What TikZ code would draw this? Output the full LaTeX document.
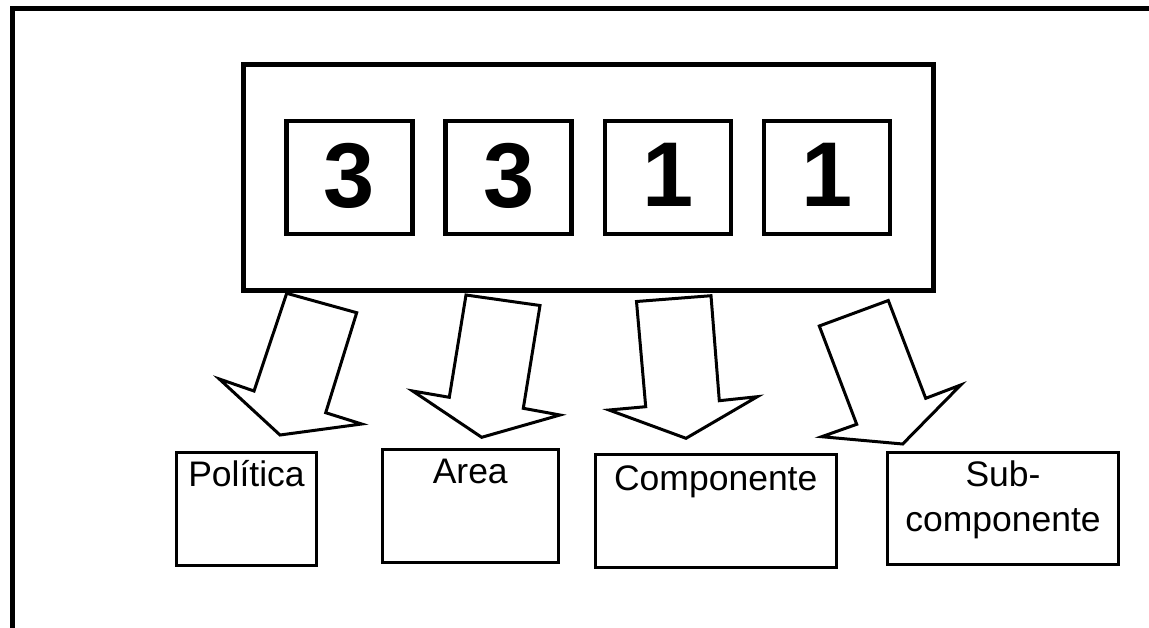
\documentclass[tikz,border=0pt]{standalone}
\usepackage{fontspec}
\setmainfont{Liberation Sans}
\tikzset{
	bigbox/.style={draw, line width=5pt, minimum width=690pt, minimum height=225.5pt, inner sep=0pt, outer sep=0pt},
	digitbox/.style={draw, line width=4.5pt, minimum width=126pt, minimum height=113pt, inner sep=0pt, outer sep=0pt, text depth=5pt, font=\fontsize{92}{100}\selectfont\bfseries},
	labelbox/.style={draw, line width=3pt, inner sep=0pt, outer sep=0pt},
	labeltext/.style={anchor=base, inner sep=0pt, align=center, font=\fontsize{35.5}{45}\selectfont},
	blockarrow/.style={draw, line width=3pt}
}
\begin{document}
\begin{tikzpicture}[x=1pt, y=-1pt]
		\clip (0, 0) rectangle (1149, 627);
		\fill[white] (0, 0) rectangle (1149, 627);
		\draw[line width=5pt] (12.5, 8.5) rectangle (1180, 660);
		% code box
		\node[bigbox] (code) at (588, 177.25) {};
		\foreach \d [count=\i] in {3, 3, 1, 1}
			\node[digitbox] (digit\i) at ({349.3 + 159.3*(\i - 1)}, 177.5) {\d};
		% arrows
		\draw[blockarrow] (286.7, 293.3) -- (356.7, 312.7) -- (325.7, 412.7) -- (361.7, 424) -- (280, 435) -- (219.3, 379) -- (254, 391) -- cycle;
		\draw[blockarrow] (466, 295) -- (540, 305.5) -- (523.3, 408.3) -- (560, 415) -- (481.7, 437.3) -- (412.7, 391) -- (449.3, 397.3) -- cycle;
		\draw[blockarrow] (636.5, 301.5) -- (711, 295.7) -- (719.3, 400.7) -- (757.3, 396.7) -- (686, 438.3) -- (609, 410) -- (645.7, 406.7) -- cycle;
		\draw[blockarrow] (819.3, 326) -- (888.3, 300.5) -- (925.7, 398.3) -- (960.7, 385) -- (902.7, 444) -- (821.7, 436.7) -- (856.7, 424.3) -- cycle;
		% labels
		\node[labelbox, minimum width=140pt, minimum height=113pt] (politica) at (246.5, 509) {};
		\node[labelbox, minimum width=176.5pt, minimum height=113pt] (area) at (470.25, 505.5) {};
		\node[labelbox, minimum width=241.5pt, minimum height=113pt] (componente) at (715.75, 511) {};
		\node[labelbox, minimum width=231pt, minimum height=112pt] (subcomponente) at (1003, 508.5) {};
		\node[labeltext] (politicatext) at ([yshift=-34pt]politica.north) {Política};
		\node[labeltext] (areatext) at ([yshift=-34pt]area.north) {Area};
		\node[labeltext] (componentetext) at ([yshift=-35.5pt]componente.north) {Componente};
		\node[labeltext] (subcomponentetext) at ([yshift=-79pt]subcomponente.north) {Sub-\\componente};
\end{tikzpicture}
\end{document}
